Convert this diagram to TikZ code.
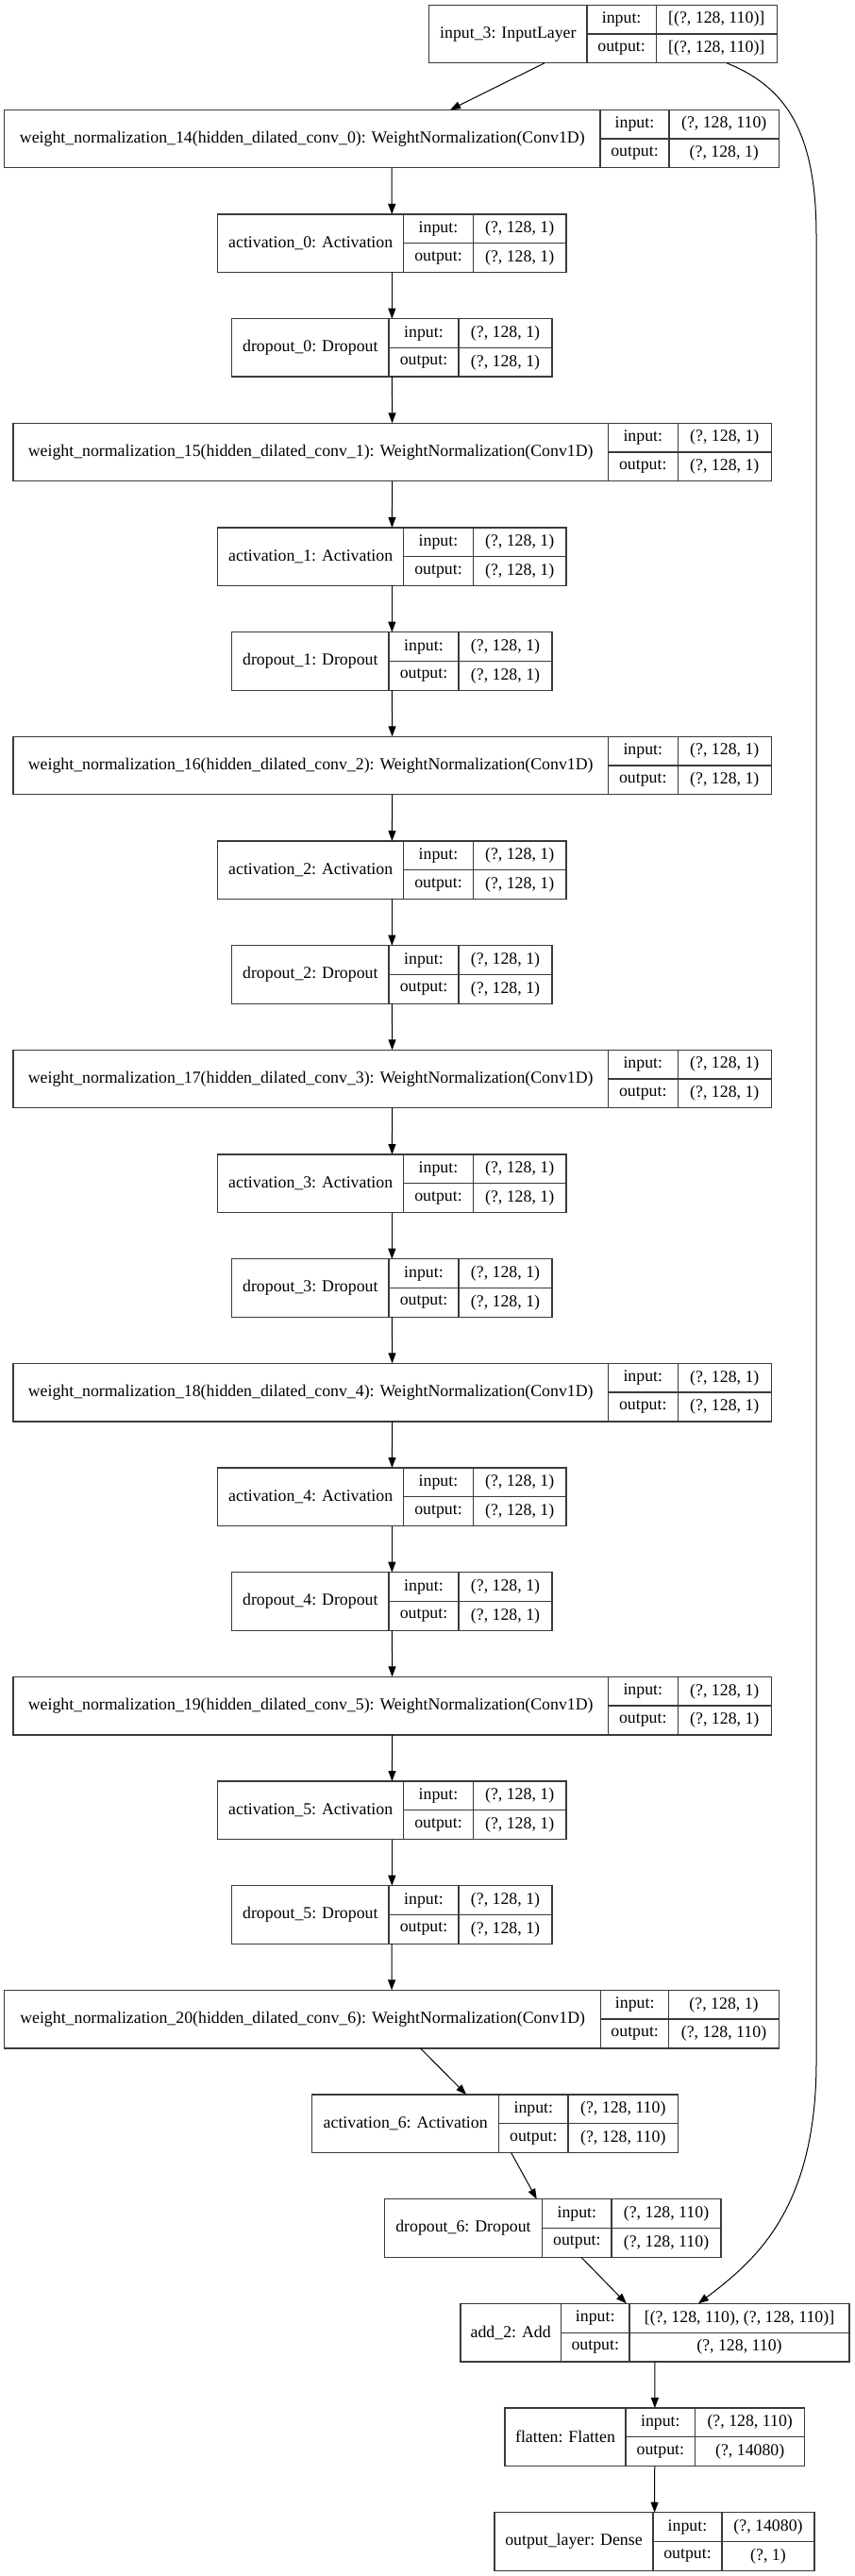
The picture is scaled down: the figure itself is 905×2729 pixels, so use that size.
\documentclass[tikz,border=0pt]{standalone}
\usepackage{fontspec}
\setmainfont{Liberation Serif}
\usetikzlibrary{arrows.meta,calc}
\definecolor{boxgray}{HTML}{3A3A3A}
\newcommand{\lbl}{\fontsize{17.8}{20}\selectfont}
\tikzset{
  cell/.style={draw=boxgray, line width=1.3pt, inner sep=0pt, outer sep=0pt, font=\lbl, align=center},
  whole/.style={draw=boxgray, line width=1.3pt, inner sep=0pt, outer sep=0pt},
  flow/.style={draw=black, line width=1pt, -{Triangle[length=11pt,width=8pt]}},
}
% #1 id, #2 row, #3 left, #4 name divider, #5 value divider, #6 right, #7 name, #8 input, #9 output
\newcommand{\layer}[9]{%
  \pgfmathsetmacro\ty{116.3+110.67*(#2)}%
  \pgfmathsetmacro\cy{\ty+30.75}%
  \pgfmathsetmacro\uy{\ty+15.375}%
  \pgfmathsetmacro\ly{\ty+46.125}%
  \node[whole, minimum width={#6-#3}, minimum height=61.5] (#1) at ({(#3+#6)/2},-\cy) {};
  \node[cell, minimum width={#4-#3}, minimum height=61.5] (#1-name) at ({(#3+#4)/2},-\cy) {#7};
  \node[cell, minimum width={#5-#4}, minimum height=30.75] (#1-il) at ({(#4+#5)/2},-\uy) {input:};
  \node[cell, minimum width={#6-#5}, minimum height=30.75] (#1-iv) at ({(#5+#6)/2},-\uy) {#8};
  \node[cell, minimum width={#5-#4}, minimum height=30.75] (#1-ol) at ({(#4+#5)/2},-\ly) {output:};
  \node[cell, minimum width={#6-#5}, minimum height=30.75] (#1-ov) at ({(#5+#6)/2},-\ly) {#9};
}
\begin{document}
\begin{tikzpicture}[x=1pt,y=1pt]
\fill[white] (0,0) rectangle (905,-2729);
\useasboundingbox (0,0) rectangle (905,-2729);

\layer{in3}{-1.0027}{454.7}{622}{695.3}{823.3}{input\_3: InputLayer}{[(?, 128, 110)]}{[(?, 128, 110)]}
\layer{wn0}{0}{4.6}{636}{709}{825.5}{weight\_normalization\_14(hidden\_dilated\_conv\_0): WeightNormalization(Conv1D)}{(?, 128, 110)}{(?, 128, 1)}
\foreach \k in {1,...,5}{%
  \pgfmathtruncatemacro\rr{3*\k}%
  \pgfmathtruncatemacro\nn{14+\k}%
  \layer{wn\k}{\rr}{14}{644.3}{718.3}{817.3}{weight\_normalization\_\nn(hidden\_dilated\_conv\_\k): WeightNormalization(Conv1D)}{(?, 128, 1)}{(?, 128, 1)}
}
\layer{wn6}{18}{4.6}{636.6}{708.8}{825.3}{weight\_normalization\_20(hidden\_dilated\_conv\_6): WeightNormalization(Conv1D)}{(?, 128, 1)}{(?, 128, 110)}
\foreach \k in {0,...,5}{%
  \pgfmathtruncatemacro\rr{3*\k+1}%
  \layer{act\k}{\rr}{230.7}{427.7}{501.3}{600}{activation\_\k: Activation}{(?, 128, 1)}{(?, 128, 1)}
  \pgfmathtruncatemacro\rr{3*\k+2}%
  \layer{drop\k}{\rr}{245.7}{412}{486}{585}{dropout\_\k: Dropout}{(?, 128, 1)}{(?, 128, 1)}
}
\layer{act6}{19}{330.7}{528.7}{602}{718.6}{activation\_6: Activation}{(?, 128, 110)}{(?, 128, 110)}
\layer{drop6}{20}{407.3}{574.7}{648}{764.1}{dropout\_6: Dropout}{(?, 128, 110)}{(?, 128, 110)}
\layer{add2}{21}{487.9}{594.5}{667}{900}{add\_2: Add}{[(?, 128, 110), (?, 128, 110)]}{(?, 128, 110)}
\layer{flat}{22}{535}{663}{736.7}{852.7}{flatten: Flatten}{(?, 128, 110)}{(?, 14080)}
\layer{outl}{23}{524}{692}{765}{863}{output\_layer: Dense}{(?, 14080)}{(?, 1)}

% connectors
\draw[flow] (in3) -- (wn0);
\foreach \k in {0,...,5}{%
  \pgfmathtruncatemacro\kn{\k+1}%
  \draw[flow] (wn\k) -- (act\k);
  \draw[flow] (act\k) -- (drop\k);
  \draw[flow] (drop\k) -- (wn\kn);
}
\draw[flow] (wn6) -- (act6);
\draw[flow] (act6) -- (drop6);
\draw[flow] (drop6) -- (add2);
\draw[flow] (add2) -- (flat);
\draw[flow] (flat) -- (outl);
\draw[flow] ([xshift=131pt]in3.south) .. controls (833,-92) and (865,-140) .. (865,-250)
  -- (865,-2180) .. controls (866,-2340) and (800,-2395) .. ([xshift=46pt]add2.north);
\end{tikzpicture}
\end{document}
